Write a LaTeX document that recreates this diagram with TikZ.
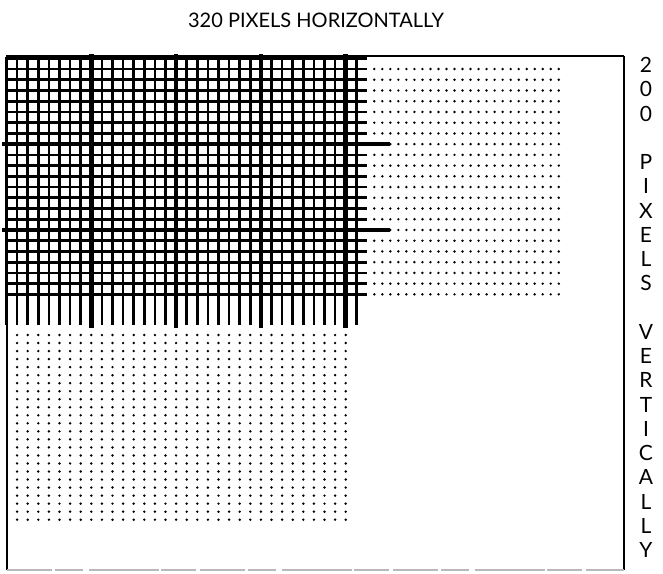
\documentclass[tikz,border=0pt]{standalone}
\usepackage{fontspec}
\setmainfont{Lato}
\begin{document}
\begin{tikzpicture}[x=1pt,y=-1pt,
  thingrid/.style={line width=2.7pt},
  thickgrid/.style={line width=4.6pt},
  framel/.style={line width=2pt},
  framer/.style={line width=1.5pt},
  frameb/.style={gray!55, line width=1.5pt, dash pattern=on 45pt off 3pt on 28pt off 6pt on 70pt off 2pt on 35pt off 4pt},
  lbl/.style={font=\fontsize{20}{20}\selectfont, inner sep=0pt, anchor=center},
  vlet/.style={font=\fontsize{21}{21}\selectfont, inner sep=0pt, anchor=center, text height=15pt, text depth=0pt}]
\useasboundingbox (0,0) rectangle (663,573);
% frame
\draw[framel] (6.5,570) -- (6.5,56) -- (624,56);
\draw[framer] (624,56) -- (624,570);
\draw[frameb] (6.5,570) -- (624,570);
% grid: horizontal lines
\foreach \j in {0,...,22} {\draw[thingrid] (6.5,{58.3+10.73*\j}) -- (367,{58.3+10.73*\j});}
\foreach \j in {8,16} {\draw[thickgrid] (2,{58.3+10.73*\j}) -- (390,{58.3+10.73*\j});}
% grid: vertical lines
\foreach \k in {0,...,33} {\draw[thingrid] ({6.5+10.6*\k},57) -- ({6.5+10.6*\k},325);}
\foreach \k in {8,16,24,32} {\draw[thickgrid] ({6.5+10.6*\k},54) -- ({6.5+10.6*\k},328);}
% dots right of the grid
\foreach \i in {0,...,23} {\foreach \j in {1,...,22} {\fill ({374.3+8.02*\i},{58.3+10.73*\j}) circle (1.35pt);}}
% dots below the grid
\foreach \k in {1,...,32} {\foreach \m in {0,...,23} {\fill ({6.5+10.6*\k},{335+8.03*\m}) circle (1.35pt);}}
% labels
\node[lbl] (title) at (316,20) {320 PIXELS HORIZONTALLY};
\foreach \c/\s in {2/0,0/1,0/2,P/4,I/5,X/6,E/7,L/8,S/9,V/11,E/12,R/13,T/14,I/15,C/16,A/17,L/18,L/19,Y/20}
  {\node[vlet] (v\s) at (646,{65+24.25*\s}) {\c};}
\end{tikzpicture}
\end{document}
